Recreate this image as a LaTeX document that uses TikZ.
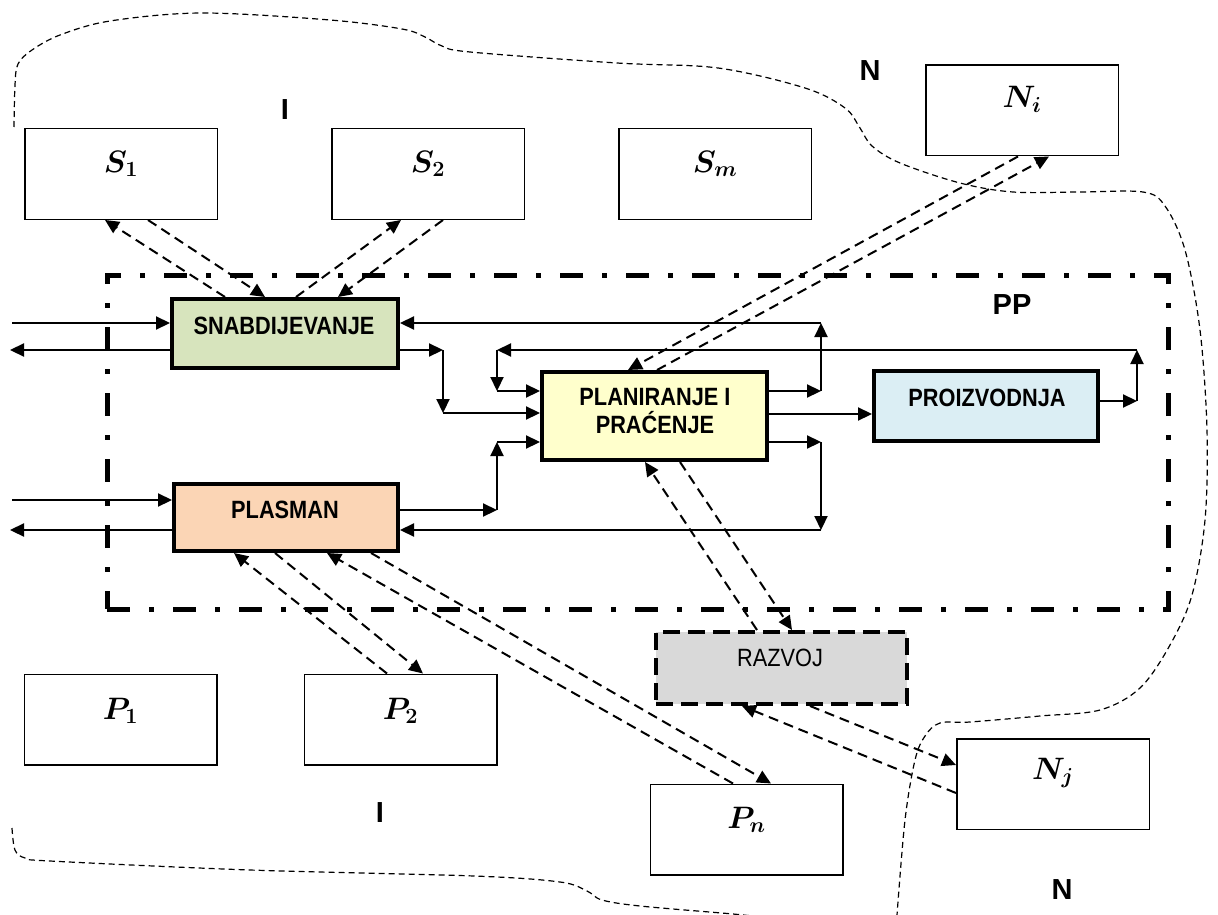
\RequirePackage{fix-cm}
\documentclass[tikz,border=0pt]{standalone}
\usepackage{fontspec}
\setmainfont{Liberation Sans}
\newfontfamily\boxfont[FakeStretch=0.87]{Liberation Sans}
\usetikzlibrary{arrows.meta}
\definecolor{snabc}{HTML}{D7E4BD}
\definecolor{planc}{HTML}{FFFFCC}
\definecolor{proic}{HTML}{DBEEF4}
\definecolor{plasc}{HTML}{FBD5B5}
\definecolor{razc}{HTML}{D9D9D9}
\begin{document}
\begin{tikzpicture}[x=1pt,y=-1pt,
  thinbox/.style={draw, line width=1.5pt, minimum width=192.5pt, minimum height=90.5pt, inner sep=0pt},
  thickbox/.style={draw, line width=4pt, inner sep=0pt},
  arr/.style={line width=2.2pt, -{Triangle[length=14pt,width=13pt]}},
  darr/.style={line width=2pt, dash pattern=on 10pt off 6pt, -{Triangle[length=14pt,width=13pt]}},
  bnd/.style={line width=1.2pt, dash pattern=on 6pt off 4pt},
  mlbl/.style={anchor=base, inner sep=0pt, font=\fontsize{31}{35}\selectfont\boldmath},
  btxt/.style={inner sep=0pt, font=\boxfont\bfseries\fontsize{25}{28}\selectfont},
  rtxt/.style={inner sep=0pt, font=\boxfont\fontsize{25}{28}\selectfont},
  big/.style={inner sep=0pt, font=\bfseries\fontsize{29}{32}\selectfont}
]
\useasboundingbox (0,0) rectangle (1218,915);

% boundary curves
\draw[bnd] plot[smooth, tension=0.55] coordinates {
 (14,127) (15,85) (18,64) (32,50) (60,35) (110,21) (202,13) (330,20) (402,29)
 (425,37) (442,46) (470,52) (617,63) (718,68) (805,88) (845,108) (860,128)
 (872,146) (900,163) (960,183) (1013,192) (1080,192) (1143,192) (1165,206)
 (1185,250) (1200,330) (1207,430) (1205,520) (1192,595) (1170,645) (1140,688)
 (1100,710) (1040,716) (970,722) (940,723) (925,736) (915,760) (905,820) (897,915)};
\draw[bnd] plot[smooth, tension=0.55] coordinates {
 (12,828) (15,850) (25,858) (50,861) (250,870) (474,876) (560,882) (587,891)
 (602,900) (640,906) (733,914) (760,917)};

% PP frame
\node[draw, line width=5pt, dash pattern=on 23pt off 19pt on 5pt off 19pt,
      minimum width=1061pt, minimum height=334pt, inner sep=0pt] (PPb) at (637.5,442) {};

% outer boxes
\node[thinbox] (S1) at (121,174) {};
\node[thinbox] (S2) at (428,174) {};
\node[thinbox] (Sm) at (715,174) {};
\node[thinbox] (Ni) at (1022,110.5) {};
\node[thinbox] (P1) at (120.5,719.5) {};
\node[thinbox] (P2) at (400.5,719.5) {};
\node[thinbox] (Pn) at (746.5,829.5) {};
\node[thinbox] (Nj) at (1053,784) {};

\node[mlbl] (S1t) at (121,172) {$S_1$};
\node[mlbl] (S2t) at (428,172) {$S_2$};
\node[mlbl] (Smt) at (715,172) {$S_m$};
\node[mlbl] (Nit) at (1022,108) {$N_i$};
\node[mlbl] (P1t) at (120.5,719) {$P_1$};
\node[mlbl] (P2t) at (400.5,719) {$P_2$};
\node[mlbl] (Pnt) at (746.5,828) {$P_n$};
\node[mlbl] (Njt) at (1053,779) {$N_j$};

% inner boxes
\node[thickbox, fill=snabc, minimum width=226pt, minimum height=69pt] (SN) at (285,333.5) {};
\node[thickbox, fill=planc, minimum width=225pt, minimum height=88pt] (PN) at (654.5,416) {};
\node[thickbox, fill=proic, minimum width=224pt, minimum height=70pt] (PR) at (986,406) {};
\node[thickbox, fill=plasc, minimum width=224pt, minimum height=67pt] (PL) at (286,517.5) {};
\node[thickbox, fill=razc, dash pattern=on 17pt off 8pt, minimum width=251pt, minimum height=72pt] (RZ) at (781.5,668) {};

\node[btxt] (SNt) at (284,326) {SNABDIJEVANJE};
\node[btxt, align=center] (PNt) at (655,411.5) {PLANIRANJE I\\PRAĆENJE};
\node[btxt] (PRt) at (987,398) {PROIZVODNJA};
\node[btxt] (PLt) at (285,510) {PLASMAN};
\node[rtxt] (RZt) at (780,658) {RAZVOJ};

% region labels
\node[big] (Ltop) at (285,110) {I};
\node[big] (Ntop) at (870,71) {N};
\node[big] (PPl) at (1012,305) {PP};
\node[big] (Lbot) at (380,813) {I};
\node[big] (Nbot) at (1062,890) {N};

% junction coordinates
\coordinate (inS) at (12,323);
\coordinate (outS) at (10,350);
\coordinate (inP) at (12,500);
\coordinate (outP) at (10,530);
\coordinate (j1) at (443,350);
\coordinate (j2) at (443,413);
\coordinate (j3) at (1137,401);
\coordinate (j4) at (1137,350);
\coordinate (j5) at (497,350);
\coordinate (j6) at (497,391);
\coordinate (j7) at (497,510);
\coordinate (j8) at (497,442);
\coordinate (j9) at (821,391);
\coordinate (j10) at (821,323);
\coordinate (j11) at (821,442);
\coordinate (j12) at (821,530);

% solid arrows
\draw[arr] (inS) -- (SN.west |- inS);
\draw[arr] (SN.west |- outS) -- (outS);
\draw[arr] (inP) -- (PL.west |- inP);
\draw[arr] (PL.west |- outP) -- (outP);

\draw[arr] (SN.east |- j1) -- (j1);
\draw[arr] (j1) -- (j2);
\draw[arr] (j2) -- (PN.west |- j2);

\draw[arr] (PR.east |- j3) -- (j3);
\draw[arr] (j3) -- (j4);
\draw[arr] (j4) -- (j5);
\draw[arr] (j5) -- (j6);
\draw[arr] (j6) -- (PN.west |- j6);

\draw[arr] (PL.east |- j7) -- (j7);
\draw[arr] (j7) -- (j8);
\draw[arr] (j8) -- (PN.west |- j8);

\draw[arr] (PN.east |- j9) -- (j9);
\draw[arr] (j9) -- (j10);
\draw[arr] (j10) -- (SN.east |- j10);

\draw[arr] (PN.east |- 0,414) -- (PR.west |- 0,414);

\draw[arr] (PN.east |- j11) -- (j11);
\draw[arr] (j11) -- (j12);
\draw[arr] (j12) -- (PL.east |- j12);

% dashed arrows
\draw[darr] (SN.north -| 225,0) -- (S1.south -| 105,0);
\draw[darr] (S1.south -| 148,0) -- (SN.north -| 265,0);
\draw[darr] (SN.north -| 296,0) -- (S2.south -| 401,0);
\draw[darr] (S2.south -| 443,0) -- (SN.north -| 338,0);

\draw[darr] (Ni.south -| 1018,0) -- (PN.north -| 628,0);
\draw[darr] (PN.north -| 657,0) -- (Ni.south -| 1049,0);

\draw[darr] (RZ.north -| 757,0) -- (PN.south -| 645,0);
\draw[darr] (PN.south -| 680,0) -- (RZ.north -| 792,0);

\draw[darr] (Nj.west |- 0,793) -- (RZ.south -| 742,0);
\draw[darr] (RZ.south -| 810,0) -- (Nj.west |- 0,765);

\draw[darr] (P2.north -| 387,0) -- (PL.south -| 234,0);
\draw[darr] (PL.south -| 275,0) -- (P2.north -| 423,0);

\draw[darr] (Pn.north -| 733,0) -- (PL.south -| 327,0);
\draw[darr] (PL.south -| 371,0) -- (Pn.north -| 771,0);
\end{tikzpicture}
\end{document}
